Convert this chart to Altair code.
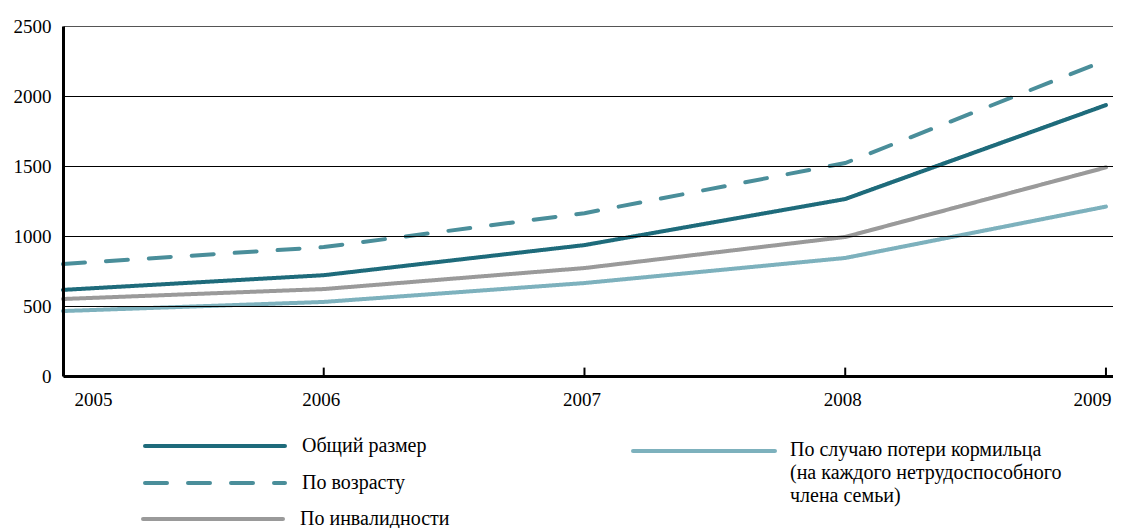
import altair as alt
import pandas as pd

years = [2005, 2006, 2007, 2008, 2009]
total = [615, 720, 935, 1264, 1935]
by_age = [800, 921, 1163, 1521, 2255]
by_disability = [550, 621, 771, 993, 1490]
by_survivor = [464, 529, 664, 843, 1210]

series_names = [
    "Общий размер",
    "По возрасту",
    "По инвалидности",
    "По случаю потери кормильца (на каждого нетрудоспособного члена семьи)",
]
series_values = [total, by_age, by_disability, by_survivor]
colors = ["#1e6b7b", "#4a8e9a", "#9a9a9a", "#7db1bd"]
dashes = [[1, 0], [22, 21], [1, 0], [1, 0]]

y_ticks = [0, 500, 1000, 1500, 2000, 2500]

rows = []
for name, vals in zip(series_names, series_values):
    for yr, v in zip(years, vals):
        rows.append({"year": yr, "value": v, "series": name})
df = pd.DataFrame(rows)

FONT = "Times New Roman, Liberation Serif, DejaVu Serif, serif"
W, H = 1050, 350

xscale = alt.Scale(domain=[2005, 2009.027], nice=False, zero=False)
yscale = alt.Scale(domain=[0, 2500], nice=False)

x_axis = alt.Axis(
    values=years, format="d", grid=False, ticks=False, title=None, zindex=1,
    domainColor="black", domainWidth=3, labelFont=FONT, labelFontSize=19,
    labelColor="black", labelPadding=14, labelFlush=False,
    labelOffset={"condition": [
        {"test": "datum.value == 2005", "value": 30},
        {"test": "datum.value == 2009", "value": -14},
    ], "value": -3},
)
y_axis = alt.Axis(
    values=y_ticks, format="d", grid=True, zindex=1,
    gridColor={"condition": {"test": "datum.value == 2500", "value": "#555555"}, "value": "black"},
    gridWidth=1, ticks=False, title=None, domainColor="black", domainWidth=3,
    labelFont=FONT, labelFontSize=19, labelColor="black", labelPadding=12,
)

layers = []
for name, col, dash in zip(series_names, colors, dashes):
    sub = df[df.series == name]
    layers.append(
        alt.Chart(sub).mark_line(color=col, strokeWidth=4, strokeDash=dash, strokeCap="round", clip=False)
        .encode(x=alt.X("year:Q", scale=xscale, axis=x_axis),
                y=alt.Y("value:Q", scale=yscale, axis=y_axis))
    )

# inward ticks on x axis
tick_df = pd.DataFrame({"year": years[1:]})
ticks = alt.Chart(tick_df).mark_rule(color="black", strokeWidth=2).encode(
    x=alt.X("year:Q", scale=xscale), y=alt.datum(0), y2=alt.datum(60)
)
layers.append(ticks)

# manual legend
legend_pos = [
    (82, 222, 420, 239),
    (82, 222, 457, 239),
    (80, 220, 493, 237),
    (570, 712, 425, 727),
]
one = alt.Data(values=[{"k": 1}])
for (x0, x1, yy, tx), name, col, dash in zip(legend_pos, series_names, colors, dashes):
    layers.append(
        alt.Chart(one).mark_rule(color=col, strokeWidth=4, strokeDash=dash, strokeCap="round")
        .encode(x=alt.value(x0), x2=alt.value(x1), y=alt.value(yy))
    )
    if name.startswith("По случаю"):
        text = ["По случаю потери кормильца", "(на каждого нетрудоспособного", "члена семьи)"]
        layers.append(
            alt.Chart(one).mark_text(font=FONT, fontSize=20, align="left", baseline="top",
                                     lineHeight=23, color="black")
            .encode(x=alt.value(tx), y=alt.value(yy - 11), text=alt.value(text))
        )
    else:
        layers.append(
            alt.Chart(one).mark_text(font=FONT, fontSize=20, align="left", baseline="middle", color="black")
            .encode(x=alt.value(tx), y=alt.value(yy), text=alt.value(name))
        )

chart = alt.layer(*layers).properties(
    width=W, height=H,
    autosize=alt.AutoSizeParams(type="none"),
    padding={"left": 55, "top": 18, "right": 0, "bottom": 152},
).configure_view(stroke=None).configure(background="white")

chart.save("out.html", embed_options={"renderer": "svg", "actions": False})
